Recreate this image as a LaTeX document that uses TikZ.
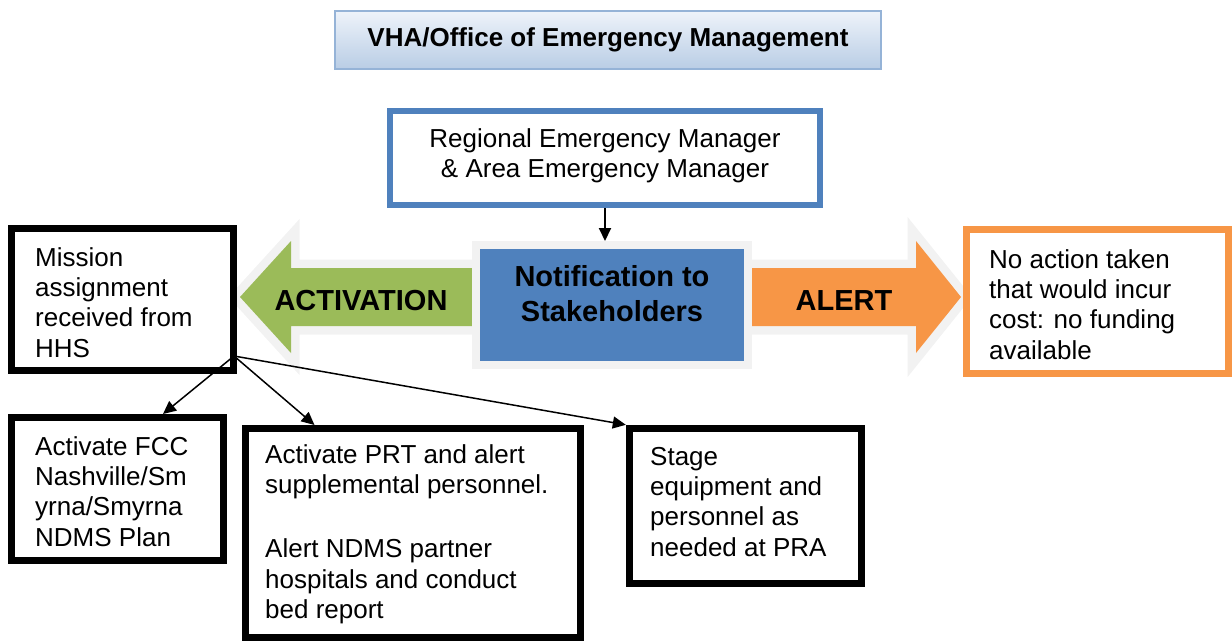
\documentclass[tikz,border=0pt]{standalone}
\usepackage{fontspec}
\setmainfont{Liberation Sans}
\usetikzlibrary{arrows.meta}
\definecolor{accblue}{HTML}{4F81BD}
\definecolor{accgreen}{HTML}{9BBB59}
\definecolor{accorange}{HTML}{F79646}
\definecolor{halo}{HTML}{F2F2F2}
\definecolor{titleline}{HTML}{95B3D7}
\definecolor{titletop}{HTML}{EEF3FA}
\definecolor{titlebot}{HTML}{B9CDE5}
\newcommand\topfix[1]{\rule{0pt}{#1}}
\begin{document}
\begin{tikzpicture}[x=1pt,y=-1pt,
  frame/.style={draw=black,line width=7pt,fill=white,inner sep=0pt,rectangle},
  body/.style={font=\fontsize{26}{30.3}\selectfont,anchor=north west,inner sep=0pt,align=left},
  bigbold/.style={font=\bfseries\fontsize{29}{35}\selectfont,inner sep=0pt},
  conn/.style={draw=black,line width=1.5pt,-{Triangle[length=13pt,width=12pt]}},
  haloarrow/.style={draw=halo,line width=17pt,line join=miter,miter limit=10}]
\useasboundingbox (0,0) rectangle (1232,641);

% title
\node[rectangle,draw=titleline,line width=2.5pt,top color=titletop,bottom color=titlebot,
      minimum width=546pt,minimum height=58pt,inner sep=0pt,
      font=\bfseries\fontsize{26}{30}\selectfont] (title) at (608,40) {VHA/Office of Emergency Management};

% regional manager
\node[rectangle,draw=accblue,line width=6pt,fill=white,minimum width=430pt,minimum height=94pt,inner sep=0pt] (reg) at (605,158) {};
\node[body,anchor=north,align=center] (reg-t) at (605,127) {\topfix{20pt}Regional Emergency Manager\\\& Area Emergency Manager};

% green arrow (activation)
\path[haloarrow] (240,297) -- (291,241) -- (291,268) -- (480,268) -- (480,326) -- (291,326) -- (291,353) -- cycle;
\fill[accgreen] (240,297) -- (291,241) -- (291,268) -- (480,268) -- (480,326) -- (291,326) -- (291,353) -- cycle;
% orange arrow (alert)
\path[haloarrow] (748,268) -- (916,268) -- (916,241) -- (961,297) -- (916,353) -- (916,326) -- (748,326) -- cycle;
\fill[accorange] (748,268) -- (916,268) -- (916,241) -- (961,297) -- (916,353) -- (916,326) -- (748,326) -- cycle;

\node[bigbold,anchor=base] (act) at (361,310) {ACTIVATION};
\node[bigbold,anchor=base] (alert) at (844,310) {ALERT};

% notification box
\node[rectangle,draw=halo,line width=8pt,fill=accblue,minimum width=272pt,minimum height=120pt,inner sep=0pt] (note) at (612,305) {};
\node[bigbold,align=center,anchor=north] (note-t) at (612,265) {\topfix{21pt}Notification to\\Stakeholders};

% right orange box
\node[rectangle,draw=accorange,line width=7pt,fill=white,minimum width=262pt,minimum height=144pt,inner sep=0pt] (noact) at (1097.5,301.5) {};
\node[body] (noact-t) at (989,248) {\topfix{20pt}No action taken\\that would incur\\cost: no funding\\available};

% mission box
\node[frame,minimum width=222pt,minimum height=142pt] (mission) at (122.75,299.4) {};
\node[body] (mission-t) at (35,246) {\topfix{20pt}Mission\\assignment\\received from\\HHS};

% lower boxes
\node[frame,minimum width=212pt,minimum height=143pt] (fcc) at (117.5,489) {};
\node[body] (fcc-t) at (35,435) {\topfix{20pt}Activate FCC\\Nashville/Sm\\yrna/Smyrna\\NDMS Plan};

\node[frame,minimum width=335pt,minimum height=209pt] (prt) at (412.5,533) {};
\node[body] (prt-t) at (265,443) {\topfix{20pt}Activate PRT and alert\\supplemental personnel.\\[34pt]Alert NDMS partner\\hospitals and conduct\\bed report};

\node[frame,minimum width=232.4pt,minimum height=155pt] (stage) at (745.5,505.8) {};
\node[body] (stage-t) at (650,445) {\topfix{20pt}Stage\\equipment and\\personnel as\\needed at PRA};

% connectors
\draw[conn,line width=2pt] (reg.south) -- (reg.south |- note.north);
\coordinate (src) at (234,356);
\draw[conn] (src) -- ([xshift=155pt]fcc.north west);
\draw[conn] (src) -- ([xshift=73pt]prt.north west);
\draw[conn] (src) -- (stage.north west);
\end{tikzpicture}
\end{document}
